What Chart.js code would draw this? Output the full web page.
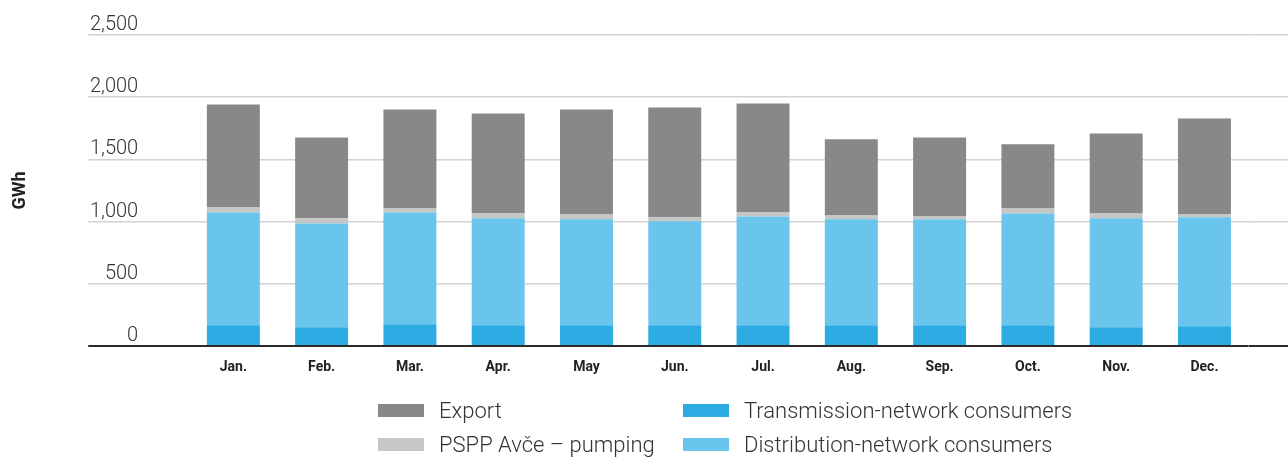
<!DOCTYPE html>
<html>
<head>
<meta charset="utf-8">
<title>Consumption by month</title>
<script src="https://cdn.jsdelivr.net/npm/chart.js@4.4.1/dist/chart.umd.min.js"></script>
<style>
    body { margin: 0; background: #fff; font-family: Roboto, sans-serif; }
    #wrap { position: relative; width: 1288px; height: 458px; }
    #legend { position: absolute; left: 378px; top: 399px; display: grid; grid-template-columns: 305px 400px; row-gap: 11px; }
    .item { display: flex; align-items: center; height: 23px; font-size: 22px; font-weight: 300; color: #333; }
    .box { width: 46px; height: 13px; margin-right: 15px; }
</style>
</head>
<body>
<div id="wrap">
    <canvas id="myChart"></canvas>
    <div id="legend"></div>
</div>
<script>
    const months = ['Jan.', 'Feb.', 'Mar.', 'Apr.', 'May', 'Jun.', 'Jul.', 'Aug.', 'Sep.', 'Oct.', 'Nov.', 'Dec.'];
    const transmission = [166, 150, 174, 166, 166, 166, 166, 166, 166, 166, 150, 158];
    const distribution = [908, 835, 900, 860, 852, 836, 876, 852, 852, 900, 876, 876];
    const pumping = [40, 41, 32, 40, 40, 32, 32, 32, 24, 40, 40, 24];
    const exportValues = [827, 651, 796, 803, 844, 884, 876, 611, 635, 515, 643, 771];
    const yTicks = [0, 500, 1000, 1500, 2000, 2500];

    // legend is a 2x2 grid: Export, Transmission / PSPP, Distribution
    const legendOrder = [3, 0, 2, 1];

    const gridColor = ctx => (ctx.tick && ctx.tick.value === 0) ? '#2b2b2b' : '#d2d2d2';
    const gridWidth = ctx => (ctx.tick && ctx.tick.value === 0) ? 2 : 1.5;
    const setTicks = scale => { scale.ticks = yTicks.map(v => ({ value: v })); };

    Chart.defaults.font.family = 'Roboto, sans-serif';

    const ctx = document.getElementById('myChart');
    const myChart = new Chart(ctx, {
        type: 'bar',
        data: {
            labels: months,
            datasets: [
                { label: 'Transmission-network consumers', data: transmission, backgroundColor: '#2cace3' },
                { label: 'Distribution-network consumers', data: distribution, backgroundColor: '#6ac5ec' },
                { label: 'PSPP Avče – pumping', data: pumping, backgroundColor: '#c6c6c6' },
                { label: 'Export', data: exportValues, backgroundColor: '#888888' }
            ]
        },
        options: {
            responsive: true,
            maintainAspectRatio: false,
            animation: false,
            layout: { padding: { left: 0, right: 0, top: 35, bottom: 72 } },
            datasets: { bar: { barPercentage: 0.6, categoryPercentage: 1 } },
            plugins: { legend: { display: false }, tooltip: { enabled: false } },
            scales: {
                x: {
                    stacked: true,
                    grid: { display: false },
                    border: { display: false },
                    ticks: { padding: 5, color: '#222', font: { size: 14, weight: 'bold' } },
                    afterFit: s => { s.height = 40; }
                },
                y: {
                    stacked: true,
                    min: 0,
                    max: 2500,
                    afterBuildTicks: setTicks,
                    afterFit: s => { s.width = 189.2; },
                    border: { display: false },
                    grid: { color: gridColor, lineWidth: gridWidth, tickLength: 101 },
                    ticks: {
                        padding: -50,
                        labelOffset: -10,
                        color: '#333',
                        font: { size: 20, weight: '300' },
                        callback: v => v.toLocaleString('en-US')
                    },
                    title: {
                        display: true,
                        text: 'GWh',
                        color: '#222',
                        font: { size: 18, weight: 'bold' },
                        padding: { top: 10, bottom: 0 }
                    }
                },
                y2: {
                    position: 'right',
                    min: 0,
                    max: 2500,
                    afterBuildTicks: setTicks,
                    afterFit: s => { s.width = 39.4; },
                    border: { display: false },
                    grid: { drawOnChartArea: false, color: gridColor, lineWidth: gridWidth, tickLength: 40 },
                    ticks: { display: false }
                }
            }
        }
    });

    function buildLegend(chart) {
        const el = document.getElementById('legend');
        legendOrder.forEach(i => {
            const ds = chart.data.datasets[i];
            const item = document.createElement('div');
            item.className = 'item';
            const box = document.createElement('span');
            box.className = 'box';
            box.style.background = ds.backgroundColor;
            const txt = document.createElement('span');
            txt.textContent = ds.label;
            item.appendChild(box);
            item.appendChild(txt);
            el.appendChild(item);
        });
    }
    buildLegend(myChart);
</script>
</body>
</html>
